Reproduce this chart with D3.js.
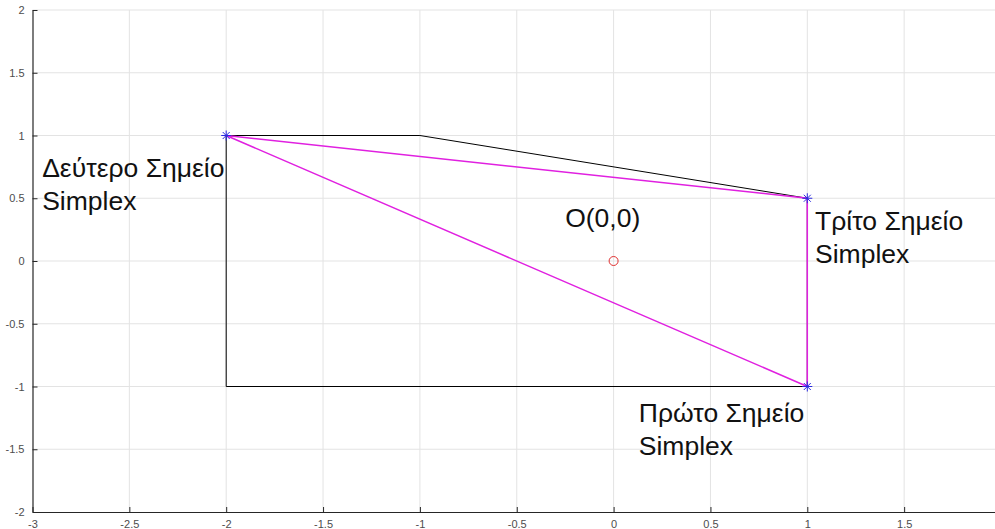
<!DOCTYPE html>
<html>
<head>
<meta charset="utf-8">
<script src="https://cdn.jsdelivr.net/npm/d3@7"></script>
<style>
  body { margin: 0; background: #fff; }
  svg { display: block; font-family: "Liberation Sans", Arial, sans-serif; }
</style>
</head>
<body>
<svg id="chart" width="995" height="529"></svg>
<script>
// polygon of the feasible region (black)
const regionX = [-2, -1, 1, 1, -2, -2];
const regionY = [1, 1, 0.5, -1, -1, 1];
// simplex triangle (magenta)
const simplexX = [1, -2, 1, 1];
const simplexY = [-1, 1, 0.5, -1];
// simplex vertices (markers)
const vertexX = [1, -2, 1];
const vertexY = [-1, 1, 0.5];
// origin
const originX = [0];
const originY = [0];
// annotations
const labelX = [-2.95, 1.04, 0.13, -0.25];
const labelY = [0.67, 0.25, -1.28, 0.27];
const labelLines = [
  ["Δεύτερο Σημείο", "Simplex"],
  ["Τρίτο Σημείο", "Simplex"],
  ["Πρώτο Σημείο", "Simplex"],
  ["O(0,0)"]
];
const xTicks = [-3, -2.5, -2, -1.5, -1, -0.5, 0, 0.5, 1, 1.5];
const yTicks = [-2, -1.5, -1, -0.5, 0, 0.5, 1, 1.5, 2];

const svg = d3.select("#chart");
const x = d3.scaleLinear().domain([-3, 2]).range([32.5, 1001]);
const y = d3.scaleLinear().domain([-2, 2]).range([512, 10]);

// grid
svg.append("g")
  .selectAll("line")
  .data(xTicks.slice(1))
  .enter().append("line")
  .attr("x1", d => x(d)).attr("x2", d => x(d))
  .attr("y1", y(-2)).attr("y2", y(2))
  .attr("stroke", "#e3e3e3").attr("stroke-width", 1);
svg.append("g")
  .selectAll("line")
  .data(yTicks.slice(1))
  .enter().append("line")
  .attr("x1", x(-3)).attr("x2", 995)
  .attr("y1", d => y(d)).attr("y2", d => y(d))
  .attr("stroke", "#e3e3e3").attr("stroke-width", 1);

// axes
const fmt = d => String(d);
const xAxis = svg.append("g")
  .attr("transform", `translate(0,${y(-2)})`)
  .call(d3.axisBottom(x).tickValues(xTicks).tickSizeInner(-5).tickSizeOuter(0).tickPadding(9)
    .tickFormat(fmt));
const yAxis = svg.append("g")
  .attr("transform", `translate(${x(-3)},0)`)
  .call(d3.axisLeft(y).tickValues(yTicks).tickSizeInner(-5).tickSizeOuter(0).tickPadding(8)
    .tickFormat(fmt));
[xAxis, yAxis].forEach(a => {
  a.select(".domain").attr("stroke", "#262626").attr("stroke-width", 1.2);
  a.selectAll(".tick line").attr("stroke", "#262626");
  a.selectAll(".tick text").attr("fill", "#4d4d4d").style("font-size", "11px")
    .style("font-family", "Liberation Sans, Arial, sans-serif");
});
xAxis.selectAll(".tick text").attr("dy", "0.6em");

const line = d3.line().x(d => x(d[0])).y(d => y(d[1]));

svg.append("path")
  .datum(regionX.map((v, i) => [v, regionY[i]]))
  .attr("d", line)
  .attr("fill", "none").attr("stroke", "#000").attr("stroke-width", 1);

svg.append("path")
  .datum(simplexX.map((v, i) => [v, simplexY[i]]))
  .attr("d", line)
  .attr("fill", "none").attr("stroke", "#e020e0").attr("stroke-width", 1.5);

// asterisk markers
const star = svg.append("g").selectAll("g")
  .data(vertexX.map((v, i) => [v, vertexY[i]]))
  .enter().append("g")
  .attr("transform", d => `translate(${x(d[0])},${y(d[1])})`);
const r = 5;
[[-r, 0, r, 0], [0, -r, 0, r], [-r * 0.7, -r * 0.7, r * 0.7, r * 0.7], [-r * 0.7, r * 0.7, r * 0.7, -r * 0.7]]
  .forEach(s => {
    star.append("line")
      .attr("x1", s[0]).attr("y1", s[1]).attr("x2", s[2]).attr("y2", s[3])
      .attr("stroke", "#2b2be0").attr("stroke-width", 1);
  });

svg.append("g").selectAll("circle")
  .data(originX.map((v, i) => [v, originY[i]]))
  .enter().append("circle")
  .attr("cx", d => x(d[0])).attr("cy", d => y(d[1]))
  .attr("r", 4.5)
  .attr("fill", "none").attr("stroke", "#e03030").attr("stroke-width", 1);

// labels
labelLines.forEach((lines, i) => {
  const t = svg.append("text")
    .attr("x", x(labelX[i]))
    .attr("y", y(labelY[i]))
    .attr("fill", "#111")
    .style("font-size", "26.5px");
  lines.forEach((s, j) => {
    t.append("tspan").attr("x", x(labelX[i])).attr("dy", j === 0 ? 0 : 33).text(s);
  });
});
</script>
</body>
</html>
